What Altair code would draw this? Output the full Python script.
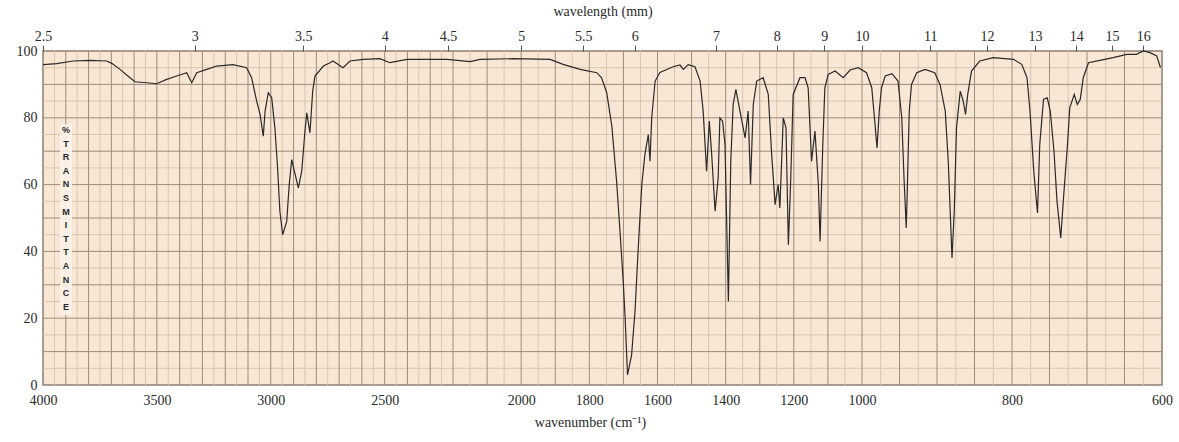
import altair as alt
import pandas as pd

# ---- spectrum data ----
wavenumber = [
    4000, 3940, 3868, 3794, 3720, 3698, 3662, 3618, 3596, 3545, 3501, 3457, 3413, 3369,
    3347, 3325, 3281, 3237, 3166, 3106, 3084, 3062, 3047, 3033, 3025, 3011, 2996, 2982,
    2971, 2960, 2948, 2930, 2919, 2908, 2898, 2879, 2864, 2850, 2842, 2828, 2816, 2806,
    2769, 2740, 2727, 2683, 2652, 2595, 2521, 2477, 2402, 2301, 2226, 2150, 2121, 2024,
    1915, 1877, 1827, 1778, 1764, 1749, 1734, 1720, 1710, 1700, 1695, 1690, 1688, 1686,
    1676, 1666, 1656, 1646, 1637, 1627, 1622, 1617, 1607, 1593, 1554, 1534, 1524, 1510,
    1490, 1475, 1466, 1456, 1448, 1441, 1431, 1422, 1417, 1409, 1402, 1392, 1385, 1378,
    1370, 1358, 1343, 1334, 1327, 1319, 1309, 1290, 1275, 1265, 1255, 1246, 1241, 1231,
    1223, 1216, 1209, 1202, 1182, 1167, 1158, 1148, 1138, 1128, 1123, 1115, 1109, 1099,
    1079, 1055, 1035, 1011, 994, 987, 983, 980, 977, 974, 969, 960, 952, 947,
    944, 941, 940, 937, 934, 927, 916, 903, 896, 889, 885, 880, 877, 874,
    869, 865, 862, 859, 854, 843, 825, 798, 787, 780, 776, 771, 766, 763,
    758, 753, 749, 744, 740, 735, 731, 726, 723, 717, 713, 709, 705, 698,
    683, 665, 647, 634, 625, 616, 607, 602,
]
transmittance = [
    95.9, 96.2, 97.0, 97.2, 97.0, 96.3, 94.5, 92.0, 90.8, 90.5, 90.2, 91.5, 92.5, 93.5,
    90.5, 93.5, 94.5, 95.5, 95.9, 95.0, 92.0, 85.0, 81.0, 74.5, 82.0, 87.5, 86.0, 77.0,
    66.0, 52.0, 45.0, 49.0, 60.0, 67.5, 64.5, 59.0, 64.0, 76.0, 81.5, 75.5, 88.0, 92.5,
    95.5, 96.5, 97.0, 95.0, 97.0, 97.5, 97.7, 96.5, 97.5, 97.5, 97.5, 96.8, 97.5, 97.7,
    97.5, 96.0, 94.5, 93.5, 92.0, 87.5, 77.5, 61.0, 46.0, 30.0, 20.0, 8.0, 3.0, 4.0,
    9.0, 22.0, 42.0, 60.0, 69.0, 75.0, 67.0, 80.0, 91.0, 93.6, 95.3, 95.8, 94.5, 95.9,
    95.3, 91.0, 82.0, 64.0, 79.0, 69.0, 52.0, 62.0, 80.0, 79.0, 72.0, 25.0, 67.0, 84.0,
    88.5, 82.0, 74.0, 82.0, 60.0, 84.0, 91.0, 92.0, 87.0, 69.0, 54.0, 60.0, 53.0, 80.0,
    77.0, 42.0, 62.0, 87.0, 92.0, 92.0, 89.0, 67.0, 76.0, 60.0, 43.0, 72.0, 89.0, 93.0,
    94.0, 92.0, 94.3, 95.0, 93.5, 89.0, 79.0, 71.0, 82.0, 89.0, 92.5, 93.2, 91.0, 80.0,
    62.0, 47.0, 55.0, 82.0, 90.0, 93.5, 94.5, 93.5, 90.0, 82.0, 67.0, 38.0, 52.0, 77.0,
    88.0, 85.0, 81.0, 87.0, 94.0, 97.0, 98.0, 97.5, 96.0, 92.0, 82.0, 64.0, 51.5, 72.0,
    85.5, 86.0, 82.0, 70.0, 55.0, 44.0, 57.0, 72.0, 83.0, 87.0, 84.0, 85.5, 92.0, 96.5,
    97.2, 98.0, 99.0, 99.0, 100.0, 99.5, 98.5, 95.0,
]

bottom_ticks = [4000, 3500, 3000, 2500, 2000, 1800, 1600, 1400, 1200, 1000, 800, 600]
wavelength_ticks = [2.5, 3, 3.5, 4, 4.5, 5, 5.5, 6, 7, 8, 9, 10, 11, 12, 13, 14, 15, 16]
y_ticks = [0, 20, 40, 60, 80, 100]

# grid positions (chart paper)
grid_major_x = list(range(3900, 900, -100)) + list(range(950, 600, -50))
grid_minor_x = list(range(3950, 1000, -100)) + list(range(975, 600, -50))
grid_major_y = list(range(10, 100, 10))
grid_minor_y = list(range(5, 100, 10))

W, H = 1119, 334
FONT = "Liberation Serif"
TXT = "#2a2a2a"

xscale = alt.Scale(domain=[4000, 2200, 1000, 600], range=[0, 410, 819, W], zero=False, nice=False)
yscale = alt.Scale(domain=[0, 100], zero=False, nice=False)

spec = pd.DataFrame({"wn": wavenumber, "T": transmittance})
gmx = pd.DataFrame({"wn": grid_major_x})
gnx = pd.DataFrame({"wn": grid_minor_x})
gmy = pd.DataFrame({"T": grid_major_y})
gny = pd.DataFrame({"T": grid_minor_y})

MINOR = "#dcc5ae"
MAJOR = "#9f8b7a"

minor_v = alt.Chart(gnx).mark_rule(color=MINOR, strokeWidth=1).encode(
    x=alt.X("wn:Q", scale=xscale, axis=None))
minor_h = alt.Chart(gny).mark_rule(color=MINOR, strokeWidth=1).encode(
    y=alt.Y("T:Q", scale=yscale, axis=None))
major_h = alt.Chart(gmy).mark_rule(color=MAJOR, strokeWidth=1).encode(
    y=alt.Y("T:Q", scale=yscale, axis=None))
major_v = alt.Chart(gmx).mark_rule(color=MAJOR, strokeWidth=1).encode(
    x=alt.X("wn:Q", scale=xscale,
            axis=alt.Axis(orient="top", values=[10000 / w for w in wavelength_ticks],
                          labelExpr="format(10000/datum.value, '.3~g')",
                          title="wavelength (mm)", titleFont=FONT, titleFontSize=14,
                          titleFontWeight="normal", titleColor=TXT, titlePadding=11,
                          labelFont=FONT, labelFontSize=14, labelColor=TXT,
                          labelPadding=2, labelFlush=False, labelOverlap=False,
                          tickSize=6, tickColor="#555555", domain=False, grid=False)))

label_box = alt.Chart(pd.DataFrame({"a": [0]})).mark_rect(color="#fbf2e8", opacity=0.9).encode(
    x=alt.value(17), x2=alt.value(29), y=alt.value(73), y2=alt.value(264))
label_text = alt.Chart(pd.DataFrame({"a": [0]})).mark_text(
    font="Liberation Sans", fontSize=9, fontWeight="bold", color="#2a2a2a",
    lineBreak="\n", lineHeight=13.6, baseline="middle", align="center").encode(
    x=alt.value(23), y=alt.value(79),
    text=alt.value("%\nT\nR\nA\nN\nS\nM\nI\nT\nT\nA\nN\nC\nE"))

line = alt.Chart(spec).mark_line(color="#2a2a2a", strokeWidth=1.2).encode(
    x=alt.X("wn:Q", scale=xscale,
            axis=alt.Axis(orient="bottom", values=bottom_ticks, format="d",
                          title="wavenumber (cm⁻¹)", titleFont=FONT, titleFontSize=14,
                          titleFontWeight="normal", titleColor=TXT, titlePadding=8,
                          titleX=547,
                          labelFont=FONT, labelFontSize=14, labelColor=TXT,
                          labelPadding=8, labelFlush=False, labelOverlap=False,
                          tickSize=0, domain=False, grid=False)),
    y=alt.Y("T:Q", scale=yscale,
            axis=alt.Axis(orient="left", values=y_ticks, title=None, labelFont=FONT,
                          labelFontSize=14, labelColor=TXT, labelPadding=6, tickSize=0,
                          domain=False, grid=False, labelFlush=False)),
    order=alt.Order("wn:Q", sort="descending"),
)

chart = alt.layer(minor_v, minor_h, major_h, major_v, label_box, label_text, line).resolve_axis(
    x="independent", y="independent").properties(
    width=W, height=H,
    autosize=alt.AutoSizeParams(type="none"),
    padding={"left": 43, "top": 51, "right": 17, "bottom": 57},
    background="white",
).configure_view(fill="#f9e7d5", stroke="#8f7f72", strokeWidth=1.5)

chart.save("out.html", embed_options={"renderer": "svg", "actions": False})
